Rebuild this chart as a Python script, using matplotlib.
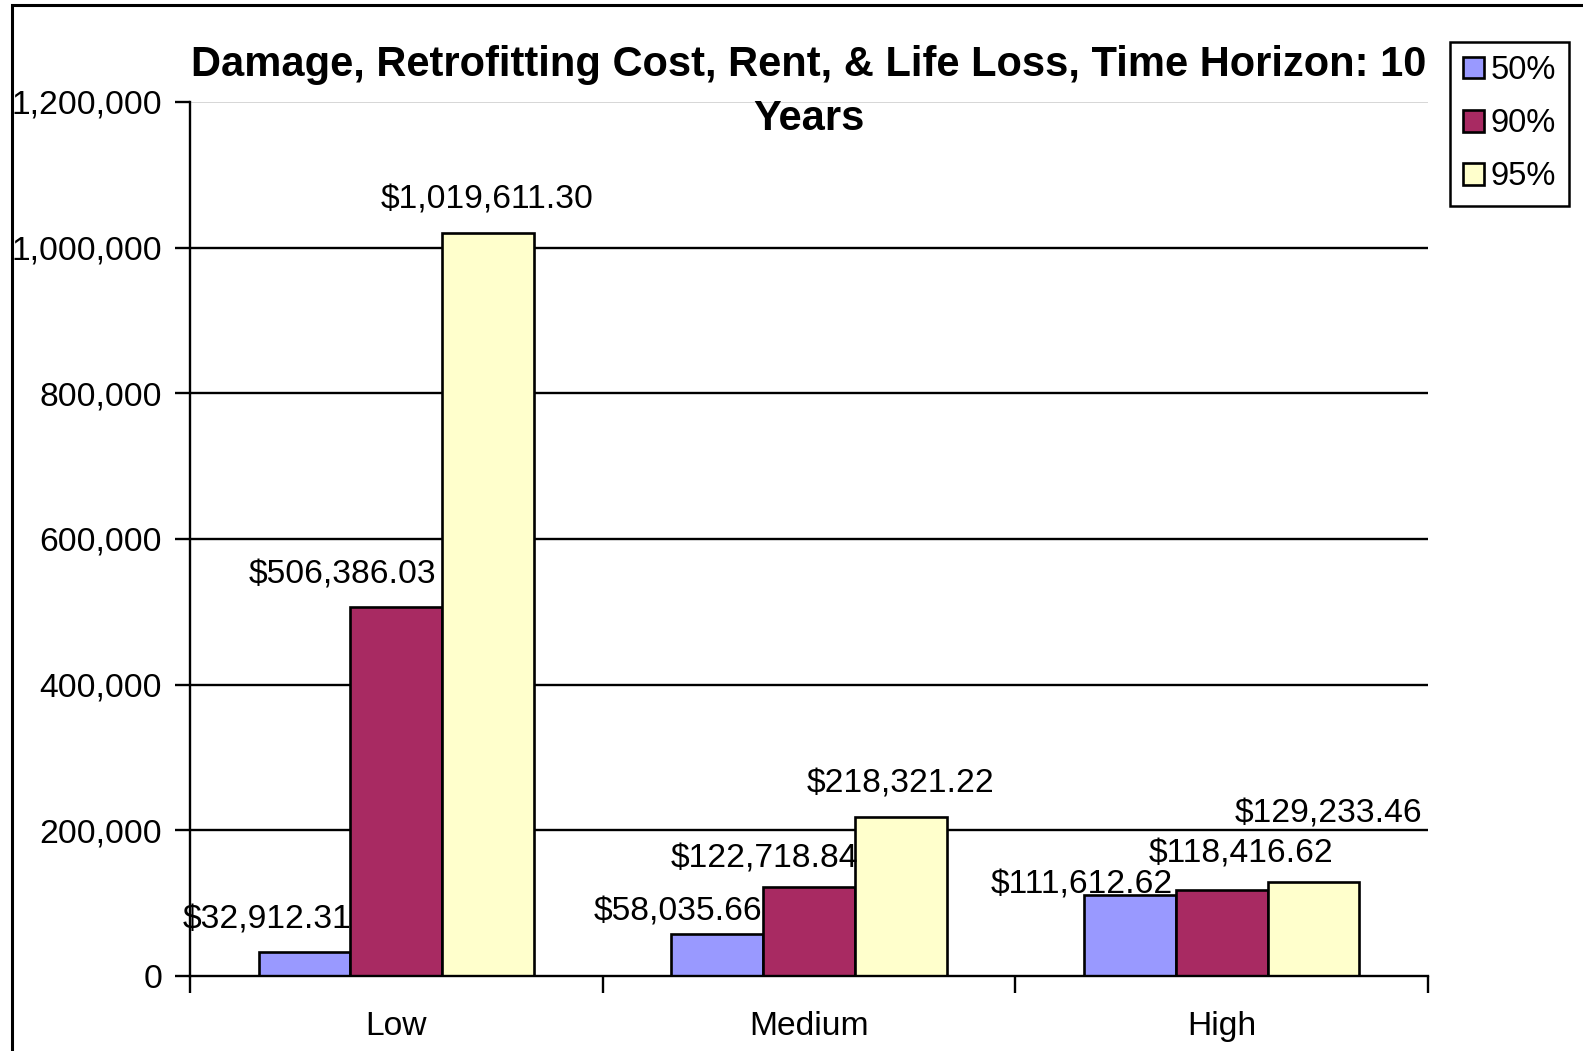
import matplotlib
matplotlib.use("Agg")
import matplotlib.pyplot as plt
from matplotlib.patches import Rectangle
import numpy as np

# data
categories = ["Low", "Medium", "High"]
series_names = ["50%", "90%", "95%"]
values_50 = [32912.31, 58035.66, 111612.62]
values_90 = [506386.03, 122718.84, 118416.62]
values_95 = [1019611.30, 218321.22, 129233.46]
y_ticks = [0, 200000, 400000, 600000, 800000, 1000000, 1200000]

colors = ["#9999FF", "#A82A62", "#FFFFCC"]

# label nudges (pixels, relative to bar centre / bar top) as placed in the source
label_dx = [[-38, -39, -48], [-54, -45, 19], [-1, 0, 15]]
label_dy = [[32, 22, 10], [32, 28, 36], [33, 33, 68]]

plt.rcParams["font.family"] = ["Liberation Sans", "DejaVu Sans"]
FS = 24.2

fig = plt.figure(figsize=(15.83, 10.51), dpi=100)
ax = fig.add_axes([0.1200, 0.0714, 0.7821, 0.8316])

x = np.arange(len(categories))
width = 1 / 4.5
all_values = [values_50, values_90, values_95]

for i, (name, vals) in enumerate(zip(series_names, all_values)):
    pos = x + (i - 1) * width
    ax.bar(pos, vals, width=width, color=colors[i], edgecolor="black",
           linewidth=1.9, label=name, zorder=3)
    for j, v in enumerate(vals):
        ax.annotate(f"${v:,.2f}", xy=(pos[j], v),
                    xytext=(label_dx[i][j], label_dy[i][j]),
                    textcoords="offset pixels", ha="center", va="center",
                    fontsize=FS, zorder=5)

ax.set_xlim(-0.5, 2.5)
ax.set_ylim(0, 1200000)

# gridlines: black, except the top one which is only the light plot edge
for t in y_ticks[1:-1]:
    ax.axhline(t, color="black", linewidth=1.7, zorder=1)
ax.axhline(y_ticks[-1], color="#d0d0d0", linewidth=1.2, zorder=1)

ax.set_yticks(y_ticks)
ax.set_yticklabels([f"{t:,}" for t in y_ticks])
ax.set_xticks([-0.5, 0.5, 1.5, 2.5])
ax.set_xticklabels([])
ax.set_xticks(x, minor=True)
ax.set_xticklabels(categories, minor=True)

ax.tick_params(axis="y", direction="out", length=11, width=1.7, pad=9,
               labelsize=FS)
ax.tick_params(axis="x", which="major", direction="out", length=12, width=1.7)
ax.tick_params(axis="x", which="minor", length=0, pad=25, labelsize=FS)

for side in ["top", "right"]:
    ax.spines[side].set_visible(False)
for side in ["left", "bottom"]:
    ax.spines[side].set_linewidth(1.7)
    ax.spines[side].set_zorder(4)

fig.text(0.1200 + 0.7821 / 2, 1 - 92 / 1051,
         "Damage, Retrofitting Cost, Rent, & Life Loss, Time Horizon: 10\nYears",
         ha="center", va="center", fontsize=30, fontweight="bold",
         linespacing=1.44)

leg = fig.legend(loc="upper left", bbox_to_anchor=(1450 / 1583, 1 - 42 / 1051),
                 fontsize=23.5, frameon=True, fancybox=False, framealpha=1,
                 edgecolor="black", handlelength=0.65, handleheight=0.65,
                 handletextpad=0.2, labelspacing=0.68, borderpad=0.4,
                 borderaxespad=0)
leg.get_frame().set_linewidth(1.8)

# outer chart frame (clipped at right and bottom in the source)
fig.patches.append(Rectangle((12 / 1583, -0.05), 1.2, 1 - 5 / 1051 + 0.05,
                             transform=fig.transFigure, fill=False,
                             edgecolor="black", linewidth=2.2))

fig.savefig("out.png", dpi=100)
